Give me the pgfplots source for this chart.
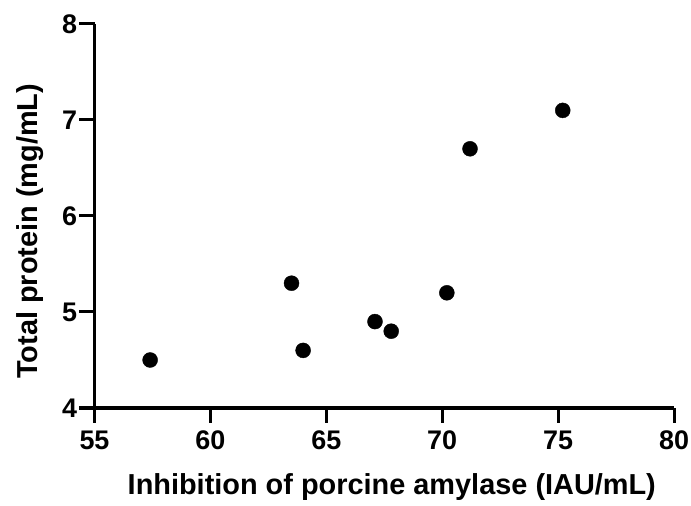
\documentclass[border=0pt]{standalone}
\usepackage{pgfplots}
\pgfplotsset{compat=1.18}
\usepackage{fontspec}
\setmainfont{Liberation Sans}
\begin{document}
\begin{tikzpicture}
\useasboundingbox (0,0) rectangle (691bp,506bp);
\begin{axis}[
  at={(94.5bp,98bp)}, anchor=south west,
  scale only axis, width=579.5bp, height=384bp,
  xmin=55, xmax=80, ymin=4, ymax=8,
  axis x line*=bottom, axis y line*=left,
  xtick={55,60,65,70,75,80}, ytick={4,5,6,7,8},
  xtick align=outside, ytick align=outside,
  major tick length=15bp,
  every outer x axis line/.append style={line width=3bp, black},
  every outer y axis line/.append style={line width=3bp, black},
  every tick/.append style={line width=3bp, black},
  /pgf/number format/assume math mode=true,
  tick label style={font=\bfseries\fontsize{27}{27}\selectfont},
  xticklabel style={anchor=north, yshift=-4bp},
  yticklabel style={anchor=east, xshift=1bp},
  xlabel={Inhibition of porcine amylase (IAU/mL)},
  ylabel={Total protein (mg/mL)},
  label style={font=\bfseries\fontsize{29}{29}\selectfont},
  xlabel style={anchor=center, at={(axis description cs:0.513,-0.205)}},
  ylabel style={anchor=center, at={(axis description cs:-0.111,0.46)}},
  clip=false,
]
\addplot[only marks, mark=*, mark size=7.5bp, black, mark options={fill=black}] coordinates {
  (57.4,4.5) (63.5,5.3) (64.0,4.6) (67.1,4.9) (67.8,4.8) (70.2,5.2) (71.2,6.7) (75.2,7.1)
};
\end{axis}
\end{tikzpicture}
\end{document}
